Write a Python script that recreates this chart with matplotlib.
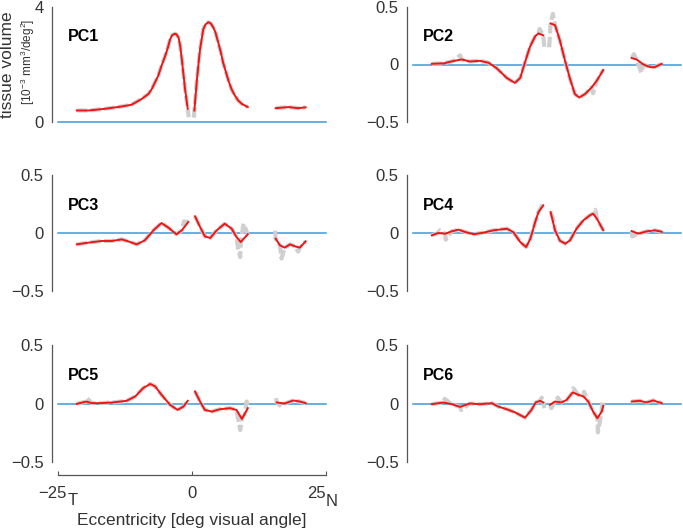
import numpy as np
import matplotlib
matplotlib.use("Agg")
import matplotlib.pyplot as plt
from matplotlib.transforms import ScaledTranslation

nan = np.nan

# ---------------- data ----------------
pc1_x = [-21.5, -19.3, -16.2, -13.1, -11.3, -9.4, -8.1, -7.5, -6.3, -5.7, -5.0, -4.5, -4.1, -3.7, -3.2, -2.9, -2.5, -2.2, -1.9, -1.3, -0.8,
         nan, 0.44, 0.87, 1.2, 1.5, 2.1, 2.5, 3.05, 3.5, 4.0, 4.4, 4.9, 5.4, 5.8, 6.8, 7.4, 8.0, 8.6, 9.3, 10.4,
         nan, 15.6, 18.0, 19.8, 21.2]
pc1_y = [0.40, 0.40, 0.46, 0.54, 0.60, 0.80, 0.98, 1.15, 1.61, 1.95, 2.30, 2.59, 2.87, 3.02, 3.07, 3.05, 2.93, 2.64, 2.18, 1.15, 0.46,
         nan, 0.40, 1.38, 2.00, 2.53, 3.22, 3.39, 3.47, 3.43, 3.28, 3.10, 2.76, 2.41, 2.07, 1.44, 1.13, 0.92, 0.75, 0.63, 0.52,
         nan, 0.48, 0.52, 0.48, 0.51]
pc1_gx = [-0.6, 0.35]
pc1_gy = [0.17, 0.15]

pc2_x = [-21.5, -19.3, -17.5, -15.9, -14.4, -12.5, -10.9, -9.4, -7.5, -6.0, -5.0, -4.1, -3.2, -2.2, -1.6, -0.7,
         nan, 0.68, 1.5, 2.4, 3.35, 4.3, 5.2, 6.0, 7.1, 8.3, 9.3, 10.5,
         nan, 15.8, 16.7, 18.0, 19.2, 20.1, 21.4]
pc2_y = [0.006, 0.01, 0.03, 0.044, 0.026, 0.032, 0.015, -0.032, -0.117, -0.16, -0.117, 0.02, 0.152, 0.246, 0.27, 0.254,
         nan, 0.357, 0.342, 0.21, 0.035, -0.126, -0.257, -0.287, -0.257, -0.20, -0.14, -0.047,
         nan, 0.056, 0.044, 0.0, -0.023, -0.023, 0.006]
pc2_gx = [-16.2, -1.4, -0.5, 0.4, 1.1, 8.6, 16.2, 17.6]
pc2_gy = [0.08, 0.31, 0.15, 0.15, 0.44, -0.25, 0.09, -0.07]

pc3_x = [-21.5, -19.3, -16.9, -15.0, -13.1, -11.9, -10.3, -8.8, -7.2, -5.7, -4.4, -2.9, -1.9, -0.7,
         nan, 0.56, 1.5, 2.4, 3.4, 4.6, 6.1, 7.4, 8.3, 9.1, 10.4,
         nan, 15.6, 16.4, 17.3, 18.3, 19.2, 20.1, 21.2]
pc3_y = [-0.098, -0.083, -0.069, -0.069, -0.055, -0.072, -0.098, -0.063, 0.023, 0.086, 0.046, -0.011, 0.023, 0.095,
         nan, 0.144, 0.052, -0.029, -0.043, 0.023, 0.08, 0.037, -0.034, -0.078, -0.011,
         nan, -0.049, -0.106, -0.126, -0.098, -0.115, -0.126, -0.072]
pc3_gx = [-1.5, 8.6, 9.0, 9.6, 15.5, 16.7, 19.8]
pc3_gy = [0.10, -0.135, -0.207, 0.08, 0.02, -0.22, -0.16]

pc4_x = [-21.5, -20.3, -19.0, -17.8, -16.5, -15.3, -13.7, -11.9, -10.0, -7.5, -6.3, -5.0, -3.9, -3.1, -2.2, -1.6, -0.7,
         nan, 0.68, 1.5, 2.4, 3.4, 4.3, 5.5, 6.8, 8.0, 8.6, 9.3, 10.5,
         nan, 15.8, 17.0, 18.6, 20.1, 21.4]
pc4_y = [-0.02, 0.0, -0.006, 0.014, 0.029, 0.009, -0.011, 0.003, 0.023, 0.037, 0.009, -0.078, -0.121, -0.049, 0.095, 0.18, 0.239,
         nan, 0.18, 0.023, -0.066, -0.092, -0.063, 0.037, 0.11, 0.152, 0.167, 0.124, 0.023,
         nan, 0.017, -0.006, 0.014, 0.023, 0.011]
pc4_gx = [-20.0, -18.9, -0.8, 1.2, 9.0, 15.9]
pc4_gy = [0.023, -0.057, 0.25, 0.11, 0.20, -0.03]

pc5_x = [-21.5, -19.7, -18.7, -16.9, -14.4, -12.2, -10.6, -9.1, -7.8, -6.9, -5.7, -4.1, -2.7, -1.6, -0.8,
         nan, 0.56, 1.5, 2.4, 3.7, 5.2, 7.1, 8.3, 9.3, 9.9, 10.4,
         nan, 15.8, 17.3, 18.9, 20.1, 21.2]
pc5_y = [-0.003, 0.017, 0.003, 0.003, 0.011, 0.023, 0.06, 0.132, 0.167, 0.147, 0.075, -0.011, -0.055, -0.026, 0.023,
         nan, 0.103, 0.017, -0.055, -0.069, -0.049, -0.04, -0.055, -0.132, -0.083, -0.04,
         nan, 0.009, 0.0, 0.026, 0.017, 0.003]
pc5_gx = [-19.6, 9.0, 10.2, 15.7, 16.7]
pc5_gy = [0.046, -0.227, 0.017, 0.046, -0.026]

pc6_x = [-21.5, -19.3, -17.8, -16.2, -14.4, -12.5, -10.3, -9.1, -7.5, -6.0, -4.1, -2.9, -2.1, -1.3, -0.7,
         nan, 0.56, 1.5, 2.7, 3.7, 4.8, 5.8, 6.8, 7.7, 8.6, 9.4, 10.2, 10.5,
         nan, 15.8, 17.3, 18.6, 19.8, 21.4]
pc6_y = [-0.006, 0.009, -0.006, -0.029, 0.0, -0.006, 0.003, -0.026, -0.049, -0.075, -0.121, -0.055, 0.009, 0.023, 0.009,
         nan, -0.011, 0.017, 0.009, 0.032, 0.095, 0.075, 0.06, 0.017, -0.069, -0.126, -0.069, -0.02,
         nan, 0.017, 0.023, 0.009, 0.026, 0.003]
pc6_gx = [-19.1, -16.0, -1.0, -0.5, 0.8, 2.0, 4.9, 6.9, 9.5, 10.3]
pc6_gy = [0.04, -0.055, 0.05, -0.04, -0.04, 0.05, 0.13, 0.10, -0.247, 0.017]

panel_names = ["PC1", "PC2", "PC3", "PC4", "PC5", "PC6"]
series_x = [pc1_x, pc2_x, pc3_x, pc4_x, pc5_x, pc6_x]
series_y = [pc1_y, pc2_y, pc3_y, pc4_y, pc5_y, pc6_y]
gray_x = [pc1_gx, pc2_gx, pc3_gx, pc4_gx, pc5_gx, pc6_gx]
gray_y = [pc1_gy, pc2_gy, pc3_gy, pc4_gy, pc5_gy, pc6_gy]

x_ticks = [-25, 0, 25]
x_ticklabels = ["\u221225", "0", "25"]
x_subscripts = ["T", "", "N"]
pc1_ticks = [0, 4]
pc1_ticklabels = ["0", "4"]
pc_ticks = [-0.5, 0, 0.5]
pc_ticklabels = ["\u22120.5", "0", "0.5"]


def merge_gray(xs, ys, sx, sy):
    xs = np.asarray(xs, float)
    ys = np.asarray(ys, float)
    segs = []
    cur = []
    for a, b in zip(xs, ys):
        if np.isnan(a):
            if cur:
                segs.append(cur)
            cur = []
        else:
            cur.append((a, b))
    if cur:
        segs.append(cur)
    outx, outy = [], []
    for seg in segs:
        lo = min(p[0] for p in seg) - 0.35
        hi = max(p[0] for p in seg) + 0.35
        pts = list(seg) + [(a, b) for a, b in zip(sx, sy) if lo <= a <= hi]
        pts.sort(key=lambda p: p[0])
        if outx:
            outx.append(nan)
            outy.append(nan)
        outx += [p[0] for p in pts]
        outy += [p[1] for p in pts]
    return outx, outy


# ---------------- figure ----------------
plt.rcParams['font.family'] = ['Liberation Sans', 'DejaVu Sans']
plt.rcParams['mathtext.fontset'] = 'custom'
plt.rcParams['mathtext.rm'] = 'Liberation Sans'
plt.rcParams['mathtext.it'] = 'Liberation Sans:italic'
plt.rcParams['mathtext.bf'] = 'Liberation Sans:bold'

W, H = 683, 532
fig = plt.figure(figsize=(W / 100, H / 100), dpi=100)

col_left = [58, 413]
col_w = 268
rows = [(7, 122), (175, 291), (345, 462)]

RED = '#f01414'
BLUE = '#3d9ad6'
GRAY = '#cfcfcf'
SPINE = '#555555'
TXT = '#333333'

axes = []
for i in range(6):
    r, c = divmod(i, 2)
    top, bot = rows[r]
    ax = fig.add_axes([col_left[c] / W, 1 - bot / H, col_w / W, (bot - top) / H])
    axes.append(ax)
    gx, gy = merge_gray(series_x[i], series_y[i], gray_x[i], gray_y[i])
    ax.plot(gx, gy, color=GRAY, lw=3.0, ls=(0, (2.5, 0.8)), zorder=2)
    ax.plot(series_x[i], series_y[i], color=RED, lw=1.4, zorder=3)
    ax.axhline(0, color=BLUE, lw=1.1, zorder=1, clip_on=False)
    ax.set_xlim(-25, 25)
    if i == 0:
        ax.set_ylim(0, 4)
        ax.set_yticks(pc1_ticks)
        ax.set_yticklabels(pc1_ticklabels)
    else:
        ax.set_ylim(-0.5, 0.5)
        ax.set_yticks(pc_ticks)
        ax.set_yticklabels(pc_ticklabels)
    for s in ['top', 'right', 'bottom']:
        ax.spines[s].set_visible(False)
    ax.spines['left'].set_position(('outward', 4.3))
    ax.spines['left'].set_color(SPINE)
    ax.spines['left'].set_linewidth(0.9)
    ax.tick_params(axis='y', length=0, pad=6, labelsize=12, labelcolor=TXT)
    ax.set_facecolor('none')
    if i == 4:
        ax.spines['bottom'].set_visible(True)
        ax.spines['bottom'].set_position(('outward', 9.4))
        ax.spines['bottom'].set_bounds(-25, 25)
        ax.spines['bottom'].set_color(SPINE)
        ax.spines['bottom'].set_linewidth(0.9)
        ax.set_xticks(x_ticks)
        ax.set_xticklabels(x_ticklabels)
        ax.tick_params(axis='x', direction='in', length=3, color=SPINE, pad=8,
                       labelsize=12, labelcolor=TXT)
        ax.set_xlabel("Eccentricity [deg visual angle]", fontsize=12.5, color=TXT)
        ax.xaxis.set_label_coords(0.5, -0.44)
        ax.annotate(x_subscripts[0], xy=(x_ticks[0], 0), xycoords=('data', 'axes fraction'),
                    xytext=(6.8, -22.5), textcoords='offset points',
                    ha='left', va='top', fontsize=12, color=TXT)
        ax.annotate(x_subscripts[2], xy=(x_ticks[2], 0), xycoords=('data', 'axes fraction'),
                    xytext=(0.0, -23.0), textcoords='offset points',
                    ha='left', va='top', fontsize=12, color=TXT)
    else:
        ax.set_xticks([])
    ax.text(0.035, 0.74, panel_names[i], transform=ax.transAxes, fontsize=11.5,
            fontweight='bold', ha='left', va='center', color='black')

# y label on first panel
ax1 = axes[0]
ax1.text(-0.188, 0.50, "tissue volume", transform=ax1.transAxes, rotation=90,
         ha='center', va='center', fontsize=12.5, color=TXT)
ax1.text(-0.114, 0.52, r"[10$^{-3}$ mm$^{3}$/deg$^{2}$]", transform=ax1.transAxes,
         rotation=90, ha='center', va='center', fontsize=8.5, color=TXT)

# shift the -25 and 25 labels left so that number + subscript sit centred on the tick
fig.canvas.draw()
shifts_px = [-6, 0, -10]
for tick, dx in zip(axes[4].xaxis.get_major_ticks(), shifts_px):
    if dx:
        tick.label1.set_transform(tick.label1.get_transform() +
                                  ScaledTranslation(dx / 100, 0, fig.dpi_scale_trans))

fig.savefig("out.png", dpi=100)
